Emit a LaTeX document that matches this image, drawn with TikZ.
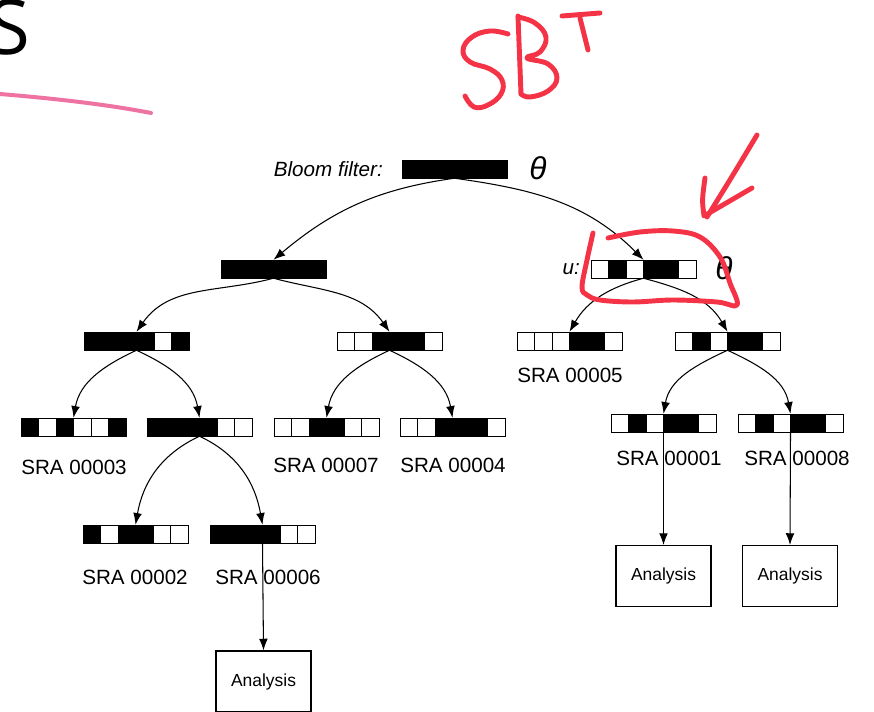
\documentclass[tikz,border=0pt]{standalone}
\usepackage{fontspec}
\setmainfont{Liberation Sans}
\newfontfamily\headfont{Open Sans}
\usetikzlibrary{arrows.meta}
\definecolor{penred}{HTML}{F43347}
\definecolor{penpink}{HTML}{EE72A2}
\colorlet{k}{black}
\colorlet{w}{white}

\tikzset{
  cell/.style={draw=black, line width=0.8pt},
  vec/.style={inner sep=0pt, minimum width=3.15cm, minimum height=0.54cm},
  link/.style={-{Latex[length=10pt,width=7.5pt]}, line width=0.9pt},
  lab/.style={inner sep=0pt, font=\fontsize{17.6}{20}\selectfont},
  result/.style={draw, line width=0.9pt, minimum width=2.85cm, minimum height=1.83cm,
    font=\fontsize{14.9}{17}\selectfont},
  redpen/.style={penred, line width=4.2pt, line cap=round, line join=round},
}

% bit vector: name, left, top, colours of the six cells
\newcommand{\bitvec}[4]{%
  \foreach \col [count=\i from 0] in {#4}
    \draw[cell, fill=\col] ({#2+\i*17.5},#3) rectangle ++(17.5,18);
  \node[vec] (#1) at ({#2+52.5},{#3+9}) {};
}

\begin{document}
\begin{tikzpicture}[x=0.03cm, y=-0.03cm]
  \clip (0,0) rectangle (874,712);

  % slide heading remnant
  \node[anchor=base east, inner sep=0pt, font=\headfont\fontsize{65}{72}\selectfont] (head) at (31,55) {S};
  \draw[penpink, line width=3.4pt, line cap=round] (0,94) .. controls (60,99) and (110,105) .. (151,113);

  % bit vectors
  \bitvec{root}{402}{160}{k,k,k,k,k,k}
  \bitvec{left}{221}{260}{k,k,k,k,k,k}
  \bitvec{u}{591}{260}{w,k,w,k,k,w}
  \bitvec{a}{84}{332}{k,k,k,k,w,k}
  \bitvec{b}{337}{332}{w,w,k,k,k,w}
  \bitvec{s5}{517}{332}{w,w,w,k,k,w}
  \bitvec{d}{675}{332}{w,k,w,k,k,w}
  \bitvec{s3}{21}{418}{k,w,k,w,w,k}
  \bitvec{f}{147}{418}{k,k,k,k,w,w}
  \bitvec{s7}{274}{418}{w,w,k,k,w,w}
  \bitvec{s4}{400}{418}{w,w,k,k,k,w}
  \bitvec{s1}{611}{414}{w,k,w,k,k,w}
  \bitvec{s8}{738}{414}{w,k,w,k,k,w}
  \bitvec{s2}{83}{525}{k,w,k,k,w,w}
  \bitvec{s6}{210}{525}{k,k,k,k,w,w}

  % texts
  \node[lab, anchor=east] (bf) at (383,169) {\textit{Bloom filter:}};
  \node[lab, font=\fontsize{27}{30}\selectfont] (th1) at (538,168) {\textit{θ}};
  \node[lab, anchor=east] (ul) at (580,269) {\textit{u:}};
  \node[lab, font=\fontsize{27}{30}\selectfont] (th2) at (724,268) {\textit{θ}};
  \node[lab] (n5) at (570,375) {SRA 00005};
  \node[lab] (n3) at (74,467) {SRA 00003};
  \node[lab] (n7) at (326,465) {SRA 00007};
  \node[lab] (n4) at (453,465) {SRA 00004};
  \node[lab] (n1) at (669,458) {SRA 00001};
  \node[lab] (n8) at (797,458) {SRA 00008};
  \node[lab] (n2) at (135,577) {SRA 00002};
  \node[lab] (n6) at (268,577) {SRA 00006};

  \node[result] (r1) at (663.5,576) {Analysis};
  \node[result] (r2) at (790,576) {Analysis};
  \node[result] (r3) at (263.5,681.5) {Analysis};

  % tree edges
  \draw[link] (root.south) to[out=188,in=40] (left.north);
  \draw[link] (root.south) to[out=-8,in=135] (u.north);
  \draw[link] (left.south) to[out=195,in=55] (a.north);
  \draw[link] (left.south) to[out=-15,in=125] (b.north);
  \draw[link] (u.south) to[out=195,in=60] (s5.north);
  \draw[link] (u.south) to[out=-15,in=120] (d.north);
  \draw[link] (a.south) to[out=205,in=80] (s3.north);
  \draw[link] (a.south) to[out=-25,in=100] (f.north);
  \draw[link] (b.south) to[out=205,in=80] (s7.north);
  \draw[link] (b.south) to[out=-25,in=100] (s4.north);
  \draw[link] (d.south) to[out=205,in=80] (s1.north);
  \draw[link] (d.south) to[out=-25,in=100] (s8.north);
  \draw[link] (f.south) to[out=205,in=80] (s2.north);
  \draw[link] (f.south) to[out=-25,in=100] (s6.north);
  \draw[link] (s1.south) -- (r1.north);
  \draw[link] (s8.south) -- (r2.north);
  \draw[link] (s6.south) -- (r3.north);

  % red pen notes
  \draw[redpen] plot[smooth, tension=0.7] coordinates {(508,34) (490,31) (472,37) (463,50) (470,62) (490,69) (502,80) (501,94) (488,105) (474,107) (465,96)};
  \draw[redpen] (518,16) -- (521,94);
  \draw[redpen] plot[smooth, tension=0.7] coordinates {(518,17) (535,23) (546,37) (540,52) (527,58) (548,64) (557,78) (548,91) (530,97) (521,94)};
  \draw[redpen] (562,16) -- (600,13);
  \draw[redpen] (580,18) .. controls (583,30) .. (588,50);
  \draw[redpen] (757,135) .. controls (733,175) .. (707,217);
  \draw[redpen] (705,178) .. controls (702,200) .. (704,216) -- (752,188);
  \draw[redpen] plot[smooth, tension=0.6] coordinates {(608,238) (640,232) (673,231) (700,237) (720,257) (730,283) (737,305) (717,302) (673,300) (633,302) (600,300) (587,295) (582,287) (587,260) (593,233)};
\end{tikzpicture}
\end{document}
